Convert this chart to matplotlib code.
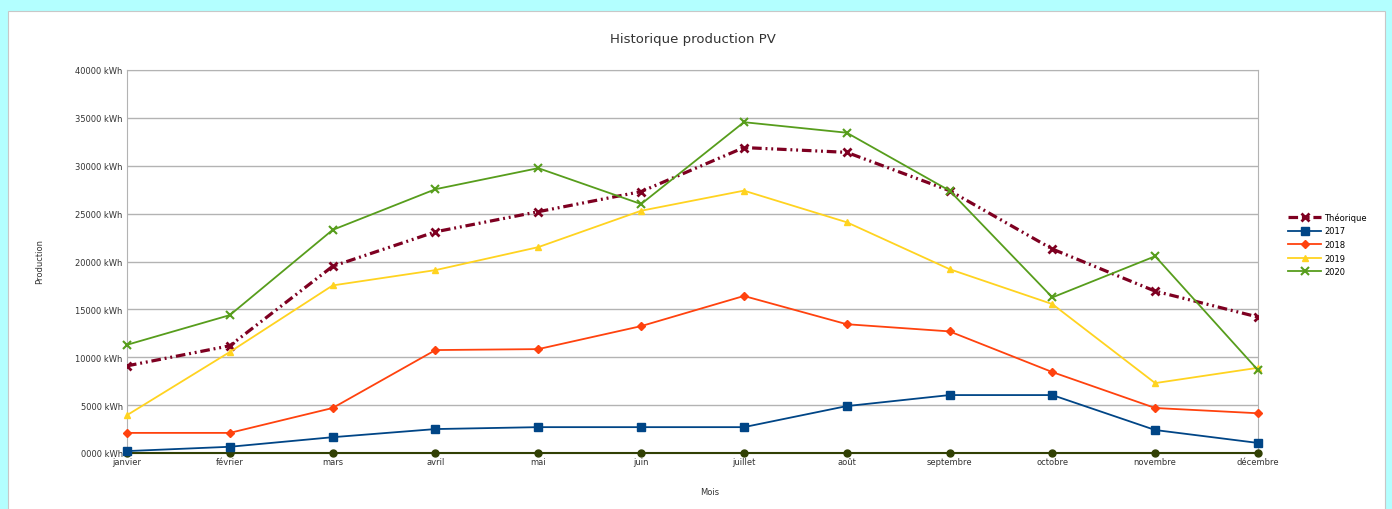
import matplotlib.pyplot as plt
import numpy as np
from matplotlib.patches import Rectangle

mois = ['janvier', 'février', 'mars', 'avril', 'mai', 'juin', 'juillet',
        'août', 'septembre', 'octobre', 'novembre', 'décembre']
theorique = [9100, 11200, 19500, 23100, 25200, 27300, 31900, 31400, 27400, 21300, 16900, 14200]
p2017 = [200, 650, 1650, 2500, 2700, 2700, 2700, 4900, 6050, 6050, 2400, 1050]
p2018 = [2100, 2100, 4700, 10750, 10850, 13250, 16400, 13450, 12700, 8450, 4700, 4150]
p2019 = [3950, 10550, 17500, 19100, 21500, 25300, 27400, 24100, 19200, 15550, 7300, 8900]
p2020 = [11300, 14400, 23300, 27550, 29750, 26000, 34550, 33450, 27400, 16250, 20550, 8650]
p2021 = [0] * 12
yticks = np.arange(0, 40001, 5000)
ytick_labels = ['0000 kWh'] + ['%d kWh' % v for v in yticks[1:]]

fig = plt.figure(figsize=(13.92, 5.10), dpi=100)
fig.patch.set_facecolor('#b3ffff')
fig.patches.append(Rectangle((8 / 1392, -0.01), 1377 / 1392, 1.01 - 12 / 510,
                             transform=fig.transFigure, facecolor='white',
                             edgecolor='#c8c8c8', linewidth=0.8, zorder=-10))

ax = fig.add_axes([127 / 1392, 1 - 454 / 510, 1131 / 1392, 383 / 510])
ax.patch.set_alpha(0)
x = np.arange(len(mois))

ax.plot(x, p2021, color='#314004', marker='o', markersize=5, linewidth=1.5, zorder=3,
        clip_on=False)
ax.plot(x, theorique, color='#7e0021', marker='x', markersize=5.5, markeredgewidth=2,
        linewidth=2.3, dashes=(3, 1.2, 0.6, 1.2, 0.6, 1.2), label='Théorique', zorder=4)
ax.plot(x, p2017, color='#004586', marker='s', markersize=5.5, linewidth=1.3,
        label='2017', zorder=4, clip_on=False)
ax.plot(x, p2018, color='#ff420e', marker='D', markersize=4, linewidth=1.3,
        label='2018', zorder=4, clip_on=False)
ax.plot(x, p2019, color='#ffd320', marker='^', markersize=4, linewidth=1.3,
        label='2019', zorder=4, clip_on=False)
ax.plot(x, p2020, color='#579d1c', marker='x', markersize=6, markeredgewidth=1.5,
        linewidth=1.3, label='2020', zorder=4, clip_on=False)

ax.set_xlim(0, 11)
ax.set_ylim(0, 40000)
ax.set_xticks(x)
ax.set_xticklabels(mois, fontsize=6, color='#333333')
ax.set_yticks(yticks)
ax.set_yticklabels(ytick_labels, fontsize=6, color='#333333')
ax.tick_params(length=0, pad=3)
ax.yaxis.grid(True, color='#b3b3b3', linewidth=1)
ax.set_axisbelow(True)
for s in ['left', 'right', 'top', 'bottom']:
    ax.spines[s].set_color('#b3b3b3')

ax.set_title('Historique production PV', fontsize=9.5, color='#333333', pad=20)
fig.text(710 / 1392, 1 - 493 / 510, 'Mois', fontsize=6, color='#333333',
         ha='center', va='center')
fig.text(40 / 1392, 1 - 262 / 510, 'Production', fontsize=6, color='#333333',
         ha='center', va='center', rotation=90)

ax.legend(loc='center left', bbox_to_anchor=(1.02, 0.545), frameon=False,
          fontsize=6, handlelength=4, labelspacing=0.55, handletextpad=0.3)

fig.savefig('out.png', dpi=100, facecolor=fig.get_facecolor())
